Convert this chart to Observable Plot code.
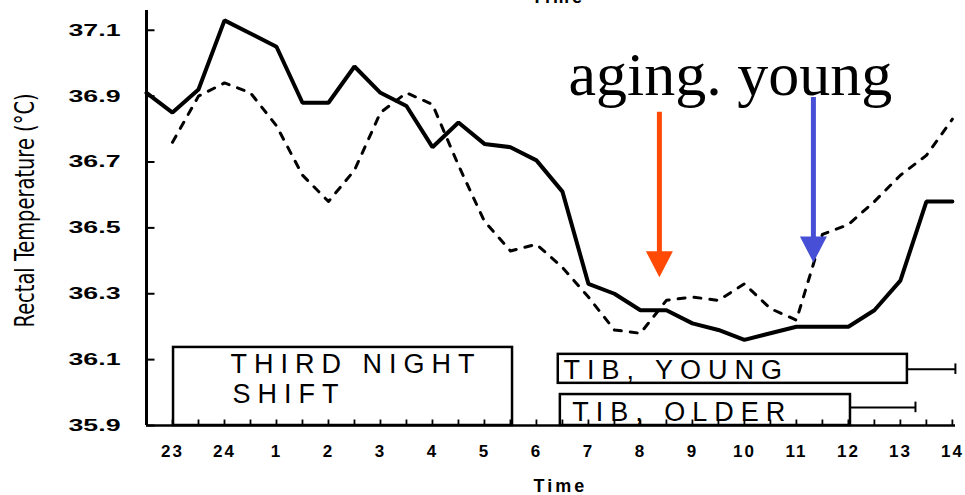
<!DOCTYPE html>
<html><head><meta charset="utf-8">
<script src="https://cdn.jsdelivr.net/npm/d3@7"></script>
<script src="https://cdn.jsdelivr.net/npm/@observablehq/plot@0.6"></script>
<style>html,body{margin:0;padding:0;background:#fff;overflow:hidden}</style>
</head><body><div id="chart"></div>
<script>
// time index: 0 = 23h, 1 = 24h, 2 = 1h ... 15 = 14h; samples every half hour
const halfHours = [-0.5,0,0.5,1,1.5,2,2.5,3,3.5,4,4.5,5,5.5,6,6.5,7,7.5,8,8.5,9,9.5,10,10.5,11,11.5,12,12.5,13,13.5,14,14.5,15];
const seriesSolid = [36.91,36.85,36.92,37.13,37.09,37.05,36.88,36.88,36.99,36.91,36.87,36.745,36.82,36.755,36.745,36.705,36.61,36.33,36.30,36.25,36.25,36.21,36.19,36.16,36.18,36.20,36.20,36.20,36.25,36.34,36.58,36.58];
const seriesDashed = [null,36.76,36.90,36.94,36.91,36.81,36.66,36.58,36.675,36.85,36.91,36.875,36.69,36.52,36.43,36.45,36.38,36.29,36.19,36.18,36.28,36.29,36.28,36.33,36.255,36.22,36.48,36.51,36.58,36.66,36.72,36.83];

const hourPositions = [0,1,2,3,4,5,6,7,8,9,10,11,12,13,14,15];
const hourLabels = ["23","24","1","2","3","4","5","6","7","8","9","10","11","12","13","14"];
const yTicks = [35.9,36.1,36.3,36.5,36.7,36.9,37.1];
const yTickLabels = ["35.9","36.1","36.3","36.5","36.7","36.9","37.1"];
const xMinorTicks = [0,0.5,1,1.5,2,2.5,3,3.5,4,4.5,5,5.5,6,6.5,7,7.5,8,8.5,9,9.5,10,10.5,11,11.5,12,12.5,13,13.5,14,14.5,15];

// legend boxes (time index / temperature)
const boxX1 = [0.02, 7.42, 7.46];
const boxX2 = [6.54, 14.135, 13.04];
const boxY1 = [35.9, 36.028, 35.9];
const boxY2 = [36.137, 36.116, 35.994];
const boxTexts = ["THIRD NIGHT", "SHIFT", "TIB, YOUNG", "TIB, OLDER"];
const boxTextX = [1.115, 1.154, 7.52, 7.69];
const boxTextY = [36.058, 35.967, 36.040, 35.915];
const barX1 = [14.135, 13.04];
const barX2 = [15.058, 14.29];
const barY = [36.071, 35.955];

// arrows and annotations
const arrowLabels = ["aging", "young"];
const arrowX = [9.365, 12.327];
const arrowTop = [36.851, 36.896];
const arrowTip = [36.35, 36.395];
const arrowColors = ["#ff4a06", "#464fd6"];
const noteText = ["aging. young"];
const noteX = [7.615];
const noteY = [36.9025];
const yTitle = "Rectal Temperature (°C)";
const xTitle = "Time";

const solidData = halfHours.map((t, i) => ({t, v: seriesSolid[i]}));
const dashedData = halfHours.map((t, i) => ({t, v: seriesDashed[i]}));
const boxes = boxX1.map((d, i) => ({x1: d, x2: boxX2[i], y1: boxY1[i], y2: boxY2[i]}));
const boxLabels = boxTexts.map((s, i) => ({s, x: boxTextX[i], y: boxTextY[i]}));
const bars = barX1.map((d, i) => ({x1: d, x2: barX2[i], y: barY[i]}));
const arrows = arrowLabels.map((s, i) => ({s, x: arrowX[i], top: arrowTop[i], tip: arrowTip[i], c: arrowColors[i]}));

const tickRight = {draw(c) { c.moveTo(0, 0); c.lineTo(8, 0); }};
const tickUp = {draw(c) { c.moveTo(0, 0); c.lineTo(0, -6); }};
const headDown = {draw(c) { c.moveTo(0, 0); c.lineTo(-13.5, -26); c.lineTo(13.5, -26); c.closePath(); }};

const chart = Plot.plot({
  width: 965, height: 495,
  marginTop: 10, marginBottom: 70, marginLeft: 146, marginRight: 10,
  x: {domain: [-0.5, 15.06], axis: null},
  y: {domain: [35.9, 37.16], axis: null},
  style: {background: "white", fontFamily: "'Liberation Sans', Arial, sans-serif", color: "black"},
  marks: [
    Plot.rect(boxes, {x1: "x1", x2: "x2", y1: "y1", y2: "y2", fill: "none", stroke: "black", strokeWidth: 2.5}),
    Plot.ruleY(bars, {x1: "x1", x2: "x2", y: "y", stroke: "black", strokeWidth: 2}),
    Plot.ruleX(bars, {x: "x2", y1: d => d.y - 0.016, y2: d => d.y + 0.016, stroke: "black", strokeWidth: 2}),
    Plot.text(boxLabels, {x: "x", y: "y", text: "s", textAnchor: "start", lineAnchor: "bottom", fontSize: 27, fill: "black"}),
    Plot.ruleX([-0.5], {stroke: "black", strokeWidth: 3}),
    Plot.ruleY([35.9], {stroke: "black", strokeWidth: 2.5}),
    Plot.dot(yTicks, {y: d => d, frameAnchor: "left", symbol: tickRight, r: 3, fill: "none", stroke: "black", strokeWidth: 2}),
    Plot.dot(xMinorTicks, {x: d => d, frameAnchor: "bottom", symbol: tickUp, r: 3, fill: "none", stroke: "black", strokeWidth: 1.8}),
    Plot.text(yTicks, {y: d => d, text: (d, i) => yTickLabels[i], frameAnchor: "left", dx: -26, textAnchor: "end", lineAnchor: "middle", fontSize: 17, fontWeight: "bold", fill: "black"}),
    Plot.text(hourPositions, {x: d => d, text: (d, i) => hourLabels[i], frameAnchor: "bottom", dy: 19, lineAnchor: "top", fontSize: 17, fontWeight: "bold", fill: "black"}),
    Plot.line(solidData, {x: "t", y: "v", stroke: "black", strokeWidth: 4, strokeLinejoin: "miter"}),
    Plot.line(dashedData, {x: "t", y: "v", stroke: "black", strokeWidth: 3, strokeDasharray: "7,9"}),
    Plot.ruleX(arrows, {x: "x", y1: "top", y2: d => d.tip + 0.06, stroke: "c", strokeWidth: 5}),
    Plot.dot(arrows, {x: "x", y: "tip", symbol: headDown, r: 5, fill: "c", stroke: "none"}),
    Plot.text(noteText, {x: (d, i) => noteX[i], y: (d, i) => noteY[i], text: d => d, textAnchor: "start", lineAnchor: "bottom", fontSize: 62, fontFamily: "'Liberation Serif', 'Times New Roman', serif", fill: "black"}),
    Plot.text([yTitle], {x: -2.83, y: 36.553, text: d => d, rotate: -90, textAnchor: "middle", lineAnchor: "middle", fontSize: 26, fontFamily: "'Liberation Sans Narrow', 'DejaVu Sans Condensed', sans-serif", fill: "black"}),
    Plot.text([xTitle], {x: 7.46, y: 35.699, text: d => d, textAnchor: "middle", lineAnchor: "bottom", fontSize: 18, fontWeight: "bold", fill: "black"}),
    Plot.text([xTitle], {x: 7.42, y: 37.182, text: d => d, textAnchor: "middle", lineAnchor: "bottom", fontSize: 18, fontWeight: "bold", fill: "black"})
  ]
});
document.getElementById("chart").appendChild(chart);
const allText = d3.select(chart).selectAll("text");
allText.filter(function() { return boxTexts.includes(this.textContent); }).style("letter-spacing", "7px");
allText.filter(function() { return yTickLabels.includes(this.textContent); })
  .attr("textLength", 52).attr("lengthAdjust", "spacingAndGlyphs");
allText.filter(function() { return hourLabels.includes(this.textContent) && !yTickLabels.includes(this.textContent); }).style("letter-spacing", "2px");
allText.filter(function() { return this.textContent === xTitle; }).style("letter-spacing", "3px");
allText.filter(function() { return this.textContent === yTitle; })
  .attr("textLength", 234).attr("lengthAdjust", "spacingAndGlyphs");
</script>
</body></html>
